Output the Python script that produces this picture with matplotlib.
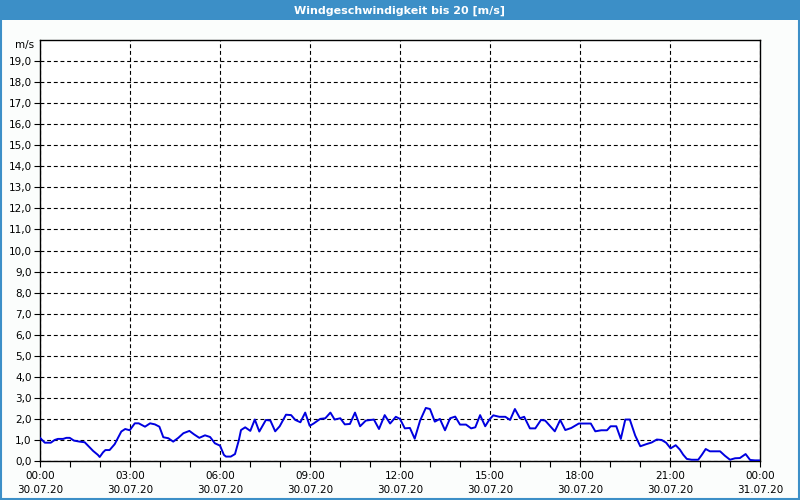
import numpy as np
import matplotlib.pyplot as plt
from matplotlib.patches import Rectangle
import matplotlib.transforms as mtransforms

# =============================
# Data (hours since 30.07.20 00:00, wind speed m/s)
# =============================
hours = [0.0, 0.16, 0.36, 0.49, 0.6, 0.77, 0.88, 0.99, 1.13, 1.32, 1.49, 1.6,
         1.77, 1.93, 1.99, 2.1, 2.18, 2.32, 2.49, 2.6, 2.71, 2.84, 2.99, 3.16,
         3.29, 3.5, 3.67, 3.83, 3.98, 4.11, 4.28, 4.44, 4.61, 4.78, 4.98, 5.13,
         5.31, 5.5, 5.67, 5.83, 6.0, 6.13, 6.2, 6.36, 6.5, 6.63, 6.7, 6.84,
         7.01, 7.16, 7.31, 7.53, 7.68, 7.84, 7.99, 8.2, 8.37, 8.51, 8.68, 8.84,
         8.99, 9.12, 9.34, 9.51, 9.68, 9.82, 10.01, 10.16, 10.33, 10.5, 10.67,
         10.86, 11.13, 11.3, 11.49, 11.67, 11.86, 12.0, 12.16, 12.33, 12.49,
         12.67, 12.86, 13.0, 13.16, 13.33, 13.5, 13.67, 13.84, 14.0, 14.2,
         14.37, 14.51, 14.67, 14.84, 14.98, 15.11, 15.31, 15.51, 15.67, 15.83,
         16.0, 16.14, 16.33, 16.51, 16.7, 16.84, 16.99, 17.16, 17.34, 17.51,
         17.71, 17.96, 18.16, 18.36, 18.51, 18.71, 18.9, 19.02, 19.21, 19.36,
         19.51, 19.66, 19.84, 20.01, 20.21, 20.39, 20.56, 20.72, 20.87, 21.02,
         21.19, 21.33, 21.44, 21.56, 21.72, 21.94, 22.06, 22.19, 22.33, 22.67,
         22.83, 23.0, 23.17, 23.33, 23.52, 23.67, 23.83, 23.97]
speed = [1.1, 0.87, 0.87, 1.0, 1.05, 1.05, 1.1, 1.1, 0.97, 0.92, 0.89, 0.73,
         0.48, 0.29, 0.19, 0.41, 0.52, 0.52, 0.8, 1.1, 1.4, 1.52, 1.46, 1.79,
         1.79, 1.63, 1.79, 1.74, 1.63, 1.13, 1.08, 0.92, 1.1, 1.32, 1.43, 1.27,
         1.1, 1.22, 1.14, 0.84, 0.73, 0.29, 0.21, 0.21, 0.33, 1.0, 1.47, 1.6,
         1.43, 1.97, 1.4, 1.95, 1.92, 1.41, 1.65, 2.2, 2.18, 1.95, 1.84, 2.3,
         1.67, 1.78, 2.0, 2.03, 2.3, 1.97, 2.03, 1.74, 1.76, 2.3, 1.65,
         1.92, 1.97, 1.52, 2.18, 1.78, 2.1, 2.0, 1.55, 1.57, 1.06,
         1.92, 2.52, 2.47, 1.87, 2.0, 1.46, 2.03, 2.11, 1.73, 1.73,
         1.55, 1.6, 2.18, 1.65, 1.97, 2.17, 2.1, 2.1, 1.95, 2.47,
         2.03, 2.1, 1.55, 1.55, 1.95, 1.92, 1.68, 1.41, 1.95, 1.47,
         1.57, 1.78, 1.78, 1.78, 1.41, 1.46, 1.46, 1.65, 1.65, 1.05,
         1.97, 1.97, 1.21, 0.7, 0.8, 0.88, 1.02, 1.0, 0.87, 0.6,
         0.75, 0.54, 0.3, 0.1, 0.06, 0.06, 0.29, 0.57, 0.46, 0.46,
         0.25, 0.06, 0.13, 0.14, 0.33, 0.05, 0.03, 0.03]

tick_hours = [0, 3, 6, 9, 12, 15, 18, 21, 24]
tick_labels = ["00:00\n30.07.20", "03:00\n30.07.20", "06:00\n30.07.20",
               "09:00\n30.07.20", "12:00\n30.07.20", "15:00\n30.07.20",
               "18:00\n30.07.20", "21:00\n30.07.20", "00:00\n31.07.20"]
y_ticks = np.arange(0, 20, 1)
y_labels = ["%d,0" % v for v in y_ticks]

title = "Windgeschwindigkeit bis 20 [m/s]"
blue_bar = "#3c8fc7"

# =============================
# Figure
# =============================
plt.rcParams['font.family'] = ['DejaVu Sans']
fig = plt.figure(figsize=(8, 5), dpi=100, facecolor="#fbfdfc")

# title bar and outer border
fig.patches.append(Rectangle((0, 0.96), 1, 0.04, transform=fig.transFigure,
                             facecolor=blue_bar, edgecolor="none", zorder=0))
fig.patches.append(Rectangle((0.001, 0.002), 0.998, 0.997, transform=fig.transFigure,
                             facecolor="none", edgecolor=blue_bar, linewidth=1.5, zorder=0))
fig.text(0.5, 0.979, title, color="white", fontsize=8, fontweight="bold",
         ha="center", va="center")

ax = fig.add_axes([0.05, 0.078, 0.90, 0.842])
ax.set_facecolor("white")
ax.plot(hours, speed, color="#0000e0", linewidth=1.4, zorder=3)

ax.set_xlim(0, 24)
ax.set_ylim(0, 20)
ax.set_xticks(tick_hours)
ax.set_xticklabels(tick_labels, fontsize=7.5, linespacing=1.55)
ax.set_xticks(np.arange(0, 25, 1), minor=True)
ax.set_yticks(y_ticks)
ax.set_yticklabels(y_labels, fontsize=7.5)

ax.grid(True, which="major", color="black", linestyle=(0, (3.5, 2.5)), linewidth=0.8)
ax.tick_params(which="both", direction="out", length=4, width=0.8, color="black", pad=2)
ax.tick_params(axis="x", which="major", pad=3)
for s in ax.spines.values():
    s.set_color("black")
    s.set_linewidth(1.0)

trans = mtransforms.blended_transform_factory(ax.transAxes, ax.transData)
ax.text(-0.008, 19.75, "m/s", transform=trans, fontsize=7.5, ha="right", va="center")

fig.savefig("out.png", dpi=100, facecolor=fig.get_facecolor())
